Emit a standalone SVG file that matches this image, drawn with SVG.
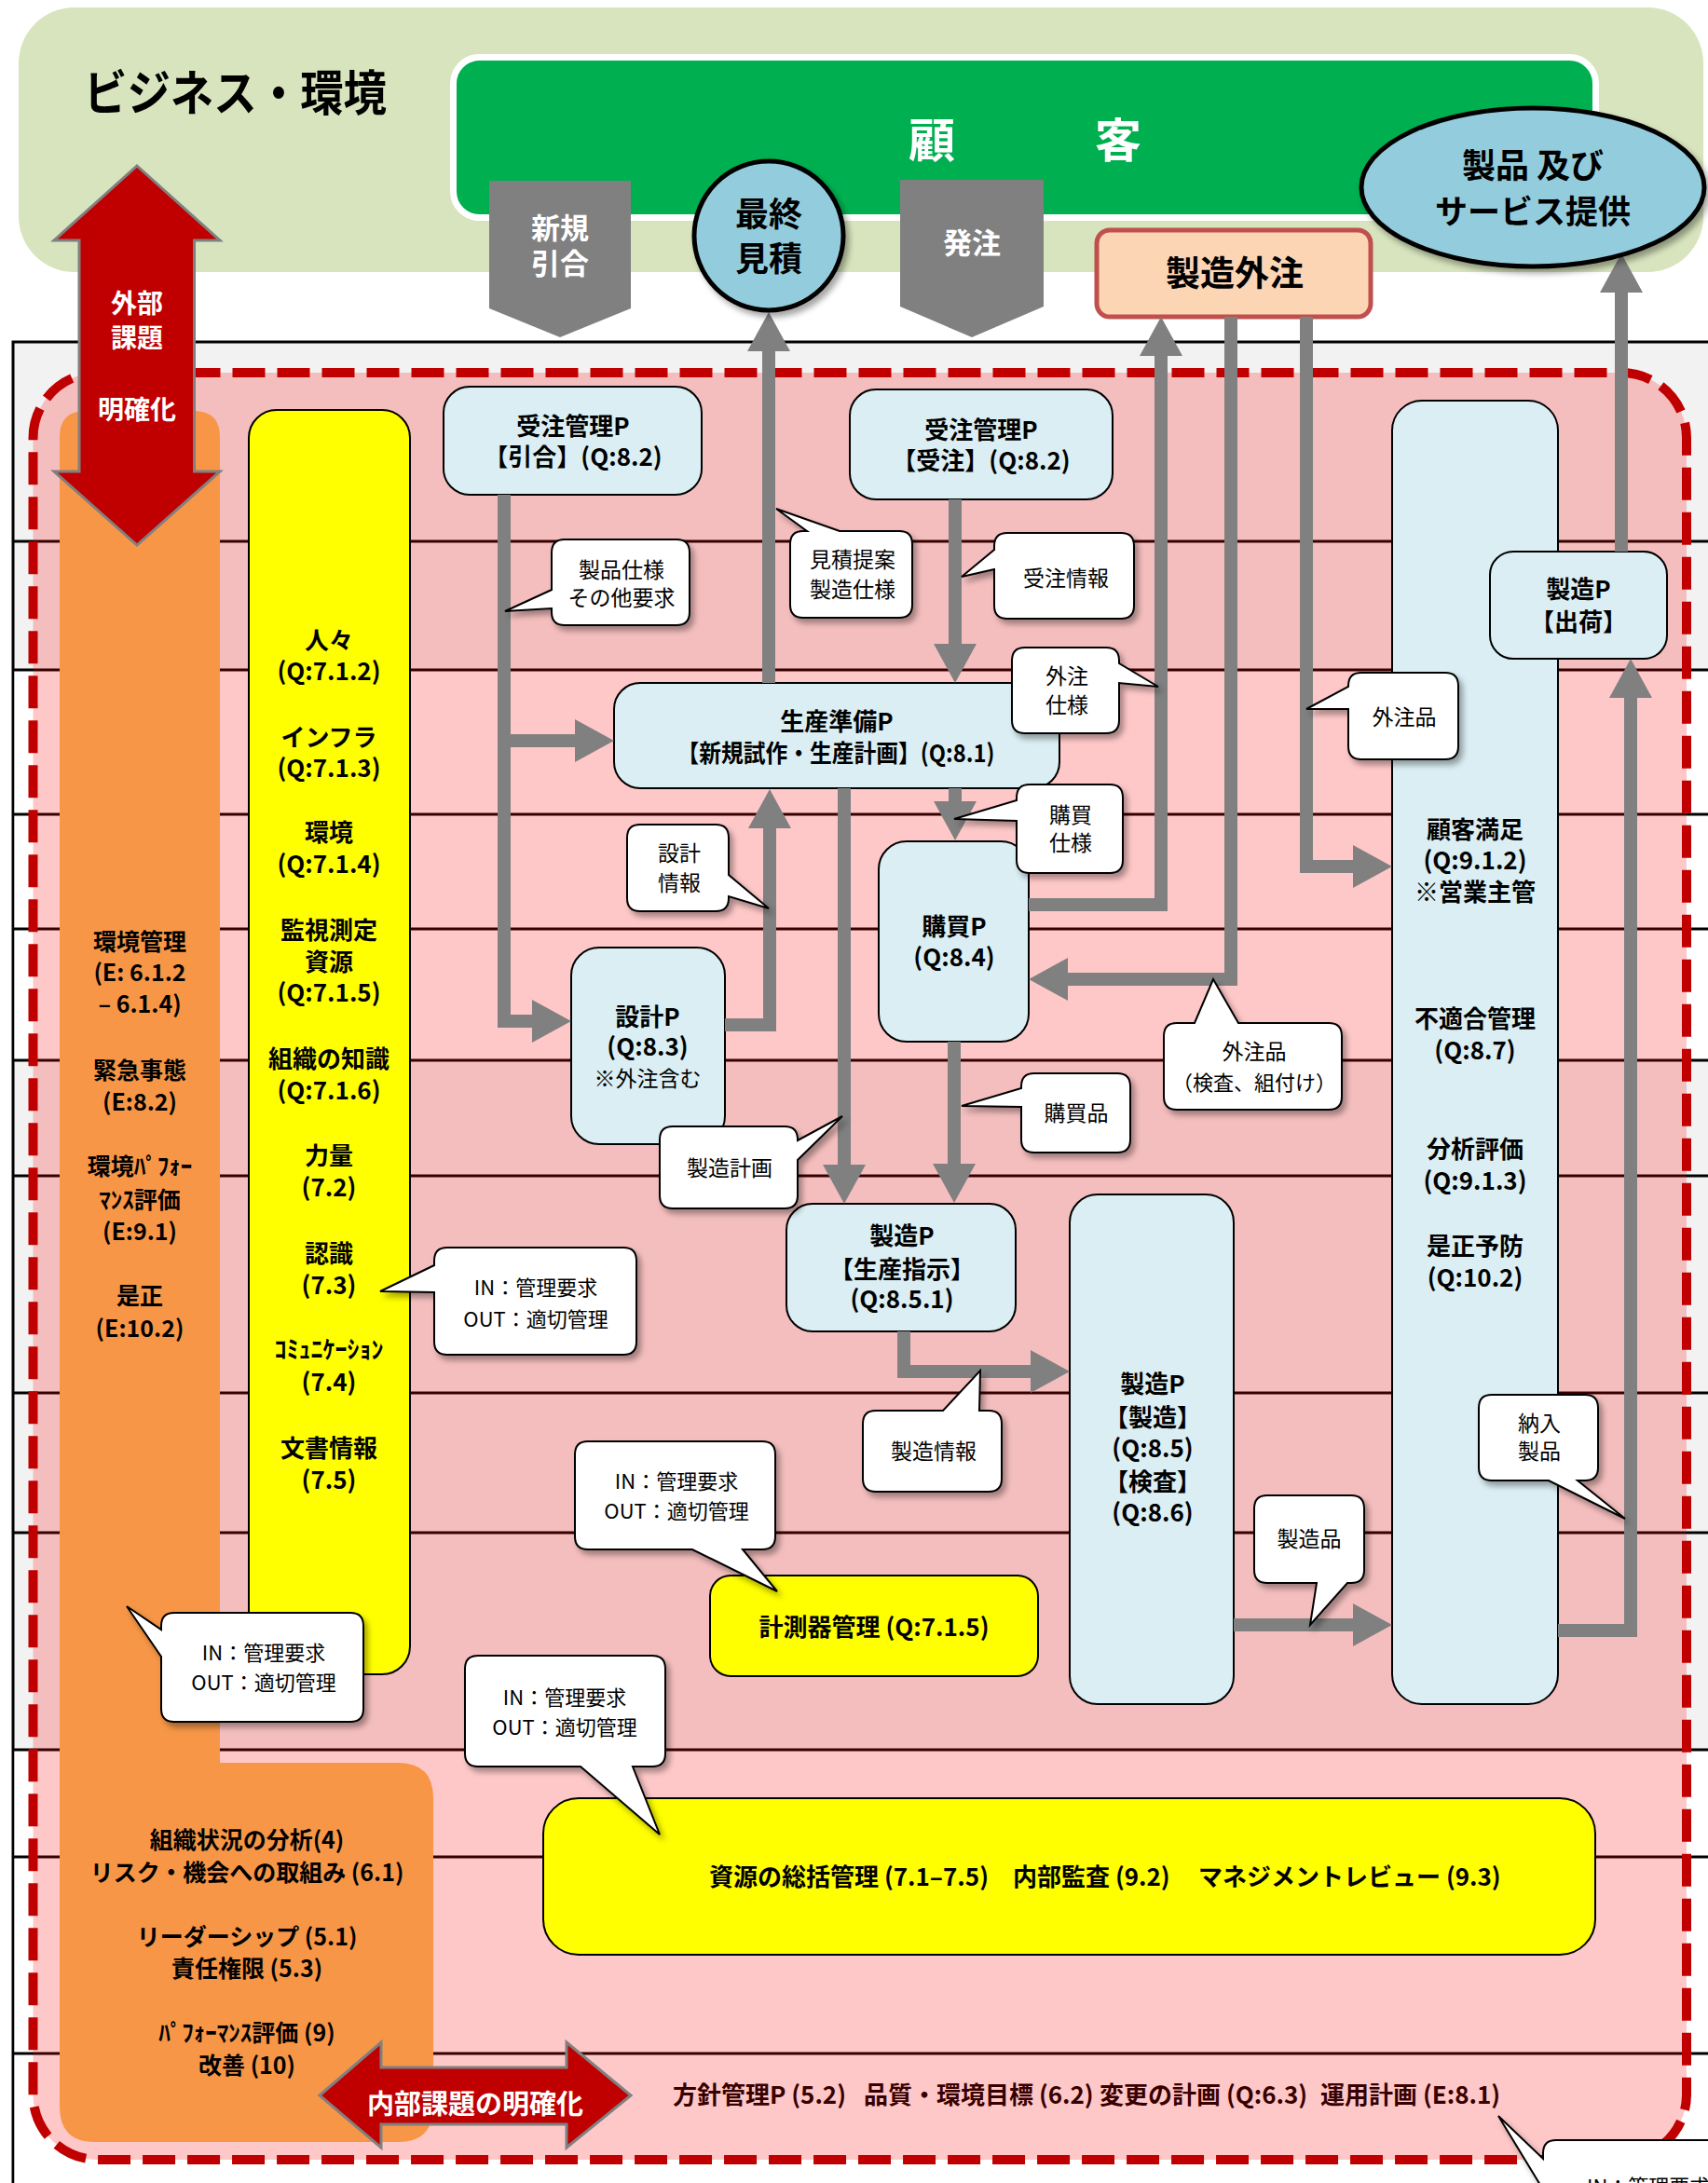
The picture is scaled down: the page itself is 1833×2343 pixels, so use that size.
<svg xmlns="http://www.w3.org/2000/svg" width="1833" height="2343" viewBox="0 0 1833 2343">
<defs>
<style>
text { font-family: "Noto Sans CJK JP", "Noto Sans CJK SC", sans-serif; fill: #000; }
.b { font-weight: 700; }
.m { text-anchor: middle; }
.w { fill: #fff; }
.box { fill: #DAEEF3; stroke: #000; stroke-width: 2; }
.bub { fill: #fff; stroke: #000; stroke-width: 2; filter: url(#sh); }
.con { fill: none; stroke: #808080; stroke-width: 14; stroke-linejoin: miter; marker-end: url(#ah); }
.rl { stroke: #000; stroke-width: 3; }
.bt { font-size: 23px; text-anchor: middle; }
.io { font-size: 22px; text-anchor: middle; }
.pt { font-size: 26px; font-weight: 700; text-anchor: middle; }
.ot { font-size: 25px; font-weight: 700; text-anchor: middle; }
.redar { fill: #C00000; stroke: #808080; stroke-width: 3; }
</style>
<filter id="sh" x="-15%" y="-15%" width="140%" height="150%">
<feDropShadow dx="4" dy="5" stdDeviation="3" flood-color="#000" flood-opacity="0.35"/>
</filter>
<marker id="ah" markerUnits="userSpaceOnUse" viewBox="0 0 42 46" refX="0" refY="23" markerWidth="42" markerHeight="46" orient="auto">
<path d="M0,0 L42,23 L0,46 Z" fill="#808080"/>
</marker>
</defs>

<rect width="1833" height="2343" fill="#fff"/>

<g id="business-environment">
<rect x="20" y="8" width="1808" height="284" rx="60" fill="#D7E4BD"/>
<text x="90" y="119" font-size="52" class="b" textLength="325" lengthAdjust="spacingAndGlyphs">ビジネス・環境</text>
</g>

<g id="customer">
<rect x="486.5" y="61.5" width="1226" height="172" rx="28" fill="#00AF50" stroke="#fff" stroke-width="7"/>
<text x="975" y="169" font-size="50" class="b w">顧　　　客</text>
</g>

<g id="frame">
<rect x="14" y="367" width="1840" height="2000" fill="#F2F2F2" stroke="#000" stroke-width="3"/>
<rect x="15.5" y="719" width="1830" height="419" fill="#fff"/>
<rect x="15.5" y="1878" width="1830" height="480" fill="#fff"/>
<g class="rl">
<line x1="14" y1="581" x2="1833" y2="581"/>
<line x1="14" y1="719" x2="1833" y2="719"/>
<line x1="14" y1="874" x2="1833" y2="874"/>
<line x1="14" y1="997" x2="1833" y2="997"/>
<line x1="14" y1="1138" x2="1833" y2="1138"/>
<line x1="14" y1="1262" x2="1833" y2="1262"/>
<line x1="14" y1="1495" x2="1833" y2="1495"/>
<line x1="14" y1="1645" x2="1833" y2="1645"/>
<line x1="14" y1="1878" x2="1833" y2="1878"/>
<line x1="14" y1="1993" x2="1833" y2="1993"/>
<line x1="14" y1="2204" x2="1833" y2="2204"/>
</g>
<text x="722" y="2258" font-size="26" class="b">方針管理P (5.2)</text>
<text x="927" y="2258" font-size="26" class="b">品質・環境目標 (6.2)</text>
<text x="1180" y="2258" font-size="26" class="b">変更の計画 (Q:6.3)</text>
<text x="1417" y="2258" font-size="26" class="b">運用計画 (E:8.1)</text>
<rect x="35.5" y="400" width="1774.5" height="1918" rx="70" fill="#FF0000" fill-opacity="0.215"/>
<rect x="35.5" y="400" width="1774.5" height="1918" rx="70" fill="none" stroke="#C00000" stroke-width="10" stroke-dasharray="35 13"/>
</g>

<g id="org-context">
<path d="M64,469 Q64,441 92,441 H208 Q236,441 236,469 V1892 H427 Q465,1892 465,1930 V2261 Q465,2299 427,2299 H102 Q64,2299 64,2261 Z" fill="#F79646"/>
<text class="ot" x="150" y="1020">環境管理</text>
<text class="ot" x="150" y="1053">(E: 6.1.2</text>
<text class="ot" x="150" y="1087">– 6.1.4)</text>
<text class="ot" x="150" y="1158">緊急事態</text>
<text class="ot" x="150" y="1192">(E:8.2)</text>
<text class="ot" x="150" y="1261">環境ﾊﾟﾌｫｰ</text>
<text class="ot" x="150" y="1297">ﾏﾝｽ評価</text>
<text class="ot" x="150" y="1331">(E:9.1)</text>
<text class="ot" x="150" y="1400">是正</text>
<text class="ot" x="150" y="1435">(E:10.2)</text>
<text class="ot" x="265" y="1984">組織状況の分析(4)</text>
<text class="ot" x="265" y="2019">リスク・機会への取組み (6.1)</text>
<text class="ot" x="265" y="2088">リーダーシップ (5.1)</text>
<text class="ot" x="265" y="2122">責任権限 (5.3)</text>
<text class="ot" x="265" y="2191">ﾊﾟﾌｫｰﾏﾝｽ評価 (9)</text>
<text class="ot" x="265" y="2226">改善 (10)</text>
</g>

<g id="resources">
<rect x="267" y="440" width="173" height="1357" rx="30" fill="#FFFF00" stroke="#000" stroke-width="2"/>
<text class="pt" x="353" y="697">人々</text>
<text class="pt" x="353" y="730">(Q:7.1.2)</text>
<text class="pt" x="353" y="801">インフラ</text>
<text class="pt" x="353" y="834">(Q:7.1.3)</text>
<text class="pt" x="353" y="903">環境</text>
<text class="pt" x="353" y="937">(Q:7.1.4)</text>
<text class="pt" x="353" y="1008">監視測定</text>
<text class="pt" x="353" y="1042">資源</text>
<text class="pt" x="353" y="1075">(Q:7.1.5)</text>
<text class="pt" x="353" y="1146">組織の知識</text>
<text class="pt" x="353" y="1180">(Q:7.1.6)</text>
<text class="pt" x="353" y="1250">力量</text>
<text class="pt" x="353" y="1284">(7.2)</text>
<text class="pt" x="353" y="1355">認識</text>
<text class="pt" x="353" y="1389">(7.3)</text>
<text class="pt" x="353" y="1458">ｺﾐｭﾆｹｰｼｮﾝ</text>
<text class="pt" x="353" y="1493">(7.4)</text>
<text class="pt" x="353" y="1564">文書情報</text>
<text class="pt" x="353" y="1598">(7.5)</text>
</g>

<g id="order-inquiry">
<rect class="box" x="476" y="415" width="277" height="116" rx="28"/>
<text class="pt" x="615" y="467">受注管理P</text>
<text class="pt" x="615" y="500">【引合】(Q:8.2)</text>
</g>

<g id="order-received">
<rect class="box" x="912" y="418" width="282" height="118" rx="28"/>
<text class="pt" x="1053" y="471">受注管理P</text>
<text class="pt" x="1053" y="504">【受注】(Q:8.2)</text>
</g>

<g id="production-prep">
<rect class="box" x="659" y="733" width="478" height="113" rx="28"/>
<text class="pt" x="898" y="784">生産準備P</text>
<text class="pt" x="897" y="818" textLength="341" lengthAdjust="spacingAndGlyphs">【新規試作・生産計画】(Q:8.1)</text>
</g>

<g id="design">
<rect class="box" x="613" y="1017" width="165" height="211" rx="30"/>
<text class="pt" x="695" y="1101">設計P</text>
<text class="pt" x="695" y="1133">(Q:8.3)</text>
<text class="bt" x="695" y="1166">※外注含む</text>
</g>

<g id="purchasing">
<rect class="box" x="943" y="903" width="161" height="215" rx="30"/>
<text class="pt" x="1024" y="1004">購買P</text>
<text class="pt" x="1024" y="1037">(Q:8.4)</text>
</g>

<g id="production-order">
<rect class="box" x="844" y="1292" width="246" height="137" rx="28"/>
<text class="pt" x="968" y="1336">製造P</text>
<text class="pt" x="968" y="1372">【生産指示】</text>
<text class="pt" x="968" y="1404">(Q:8.5.1)</text>
</g>

<g id="manufacturing">
<rect class="box" x="1148" y="1282" width="176" height="547" rx="30"/>
<text class="pt" x="1237" y="1495">製造P</text>
<text class="pt" x="1237" y="1531">【製造】</text>
<text class="pt" x="1237" y="1564">(Q:8.5)</text>
<text class="pt" x="1237" y="1600">【検査】</text>
<text class="pt" x="1237" y="1633">(Q:8.6)</text>
</g>

<g id="satisfaction">
<rect class="box" x="1494" y="430" width="178" height="1399" rx="32"/>
<text class="pt" x="1583" y="900">顧客満足</text>
<text class="pt" x="1583" y="933">(Q:9.1.2)</text>
<text class="pt" x="1583" y="967">※営業主管</text>
<text class="pt" x="1583" y="1103">不適合管理</text>
<text class="pt" x="1583" y="1137">(Q:8.7)</text>
<text class="pt" x="1583" y="1243">分析評価</text>
<text class="pt" x="1583" y="1277">(Q:9.1.3)</text>
<text class="pt" x="1583" y="1347">是正予防</text>
<text class="pt" x="1583" y="1381">(Q:10.2)</text>
</g>

<g id="shipping">
<rect class="box" x="1599" y="592" width="190" height="115" rx="25"/>
<text class="pt" x="1694" y="642">製造P</text>
<text class="pt" x="1694" y="677">【出荷】</text>
</g>

<g id="measuring">
<rect x="762" y="1691" width="352" height="108" rx="22" fill="#FFFF00" stroke="#000" stroke-width="2"/>
<text class="pt" x="938" y="1756">計測器管理 (Q:7.1.5)</text>
</g>

<g id="management">
<rect x="583" y="1930" width="1129" height="168" rx="38" fill="#FFFF00" stroke="#000" stroke-width="2"/>
<text x="761" y="2024" font-size="26" class="b">資源の総括管理 (7.1–7.5)</text>
<text x="1087" y="2024" font-size="26" class="b">内部監査 (9.2)</text>
<text x="1286" y="2024" font-size="26" class="b">マネジメントレビュー (9.3)</text>
</g>

<g id="outsourcing">
<rect x="1177" y="247" width="294" height="93" rx="14" fill="#FCD5B5" stroke="#C0504D" stroke-width="5"/>
<text x="1325" y="307" font-size="37" class="b m">製造外注</text>
</g>

<g id="connectors">
<path class="con" d="M541,531 V1096 H571"/>
<path class="con" d="M541,795 H617"/>
<path class="con" d="M825,733 V377"/>
<path class="con" d="M1025,536 V691"/>
<path class="con" d="M1025,846 V860"/>
<path class="con" d="M778,1100 H826 V889"/>
<path class="con" d="M906,846 V1250"/>
<path class="con" d="M1024,1118 V1249"/>
<path class="con" d="M1104,971 H1246 V382"/>
<path class="con" d="M1321,340 V1051 H1146"/>
<path class="con" d="M1402,340 V930 H1452"/>
<path class="con" d="M1324,1744 H1452"/>
<path class="con" d="M970,1429 V1472 H1106"/>
<path class="con" d="M1672,1750 H1750 V749"/>
<path class="con" d="M1740,592 V314"/>
</g>

<g id="new-inquiry">
<polygon points="525,194 677,194 677,331 601,362 525,331" fill="#808080"/>
<text x="601" y="256" font-size="31" class="b m w">新規</text>
<text x="601" y="294" font-size="31" class="b m w">引合</text>
</g>

<g id="order">
<polygon points="966,193 1120,193 1120,329 1043,362 966,329" fill="#808080"/>
<text x="1043" y="272" font-size="31" class="b m w">発注</text>
</g>

<g id="final-estimate">
<circle cx="825" cy="253" r="80" fill="#93CDDD" stroke="#000" stroke-width="5" filter="url(#sh)"/>
<text x="825" y="243" font-size="36" class="b m">最終</text>
<text x="825" y="291" font-size="36" class="b m">見積</text>
</g>

<g id="delivery">
<ellipse cx="1645" cy="201" rx="184" ry="85" fill="#93CDDD" stroke="#000" stroke-width="5" filter="url(#sh)"/>
<text x="1645" y="191" font-size="36" class="b m">製品 及び</text>
<text x="1645" y="240" font-size="35" class="b m">サービス提供</text>
</g>

<g id="external-issues">
<polygon class="redar" points="147,178 236,258 208.5,258 208.5,506 236,506 147,585 58,506 85,506 85,258 58,258"/>
<text x="147" y="336" font-size="28" class="b m w">外部</text>
<text x="147" y="373" font-size="28" class="b m w">課題</text>
<text x="147" y="450" font-size="28" class="b m w">明確化</text>
</g>

<g id="internal-issues">
<polygon class="redar" points="343,2249 409,2192 409,2219 608,2219 608,2192 677,2249 608,2305 608,2280 409,2280 409,2305"/>
<text x="510" y="2269" font-size="29" class="b m w">内部課題の明確化</text>
</g>

<g id="callout-spec">
<path class="bub" d="M606,579 H726 Q740,579 740,593 V657 Q740,671 726,671 H606 Q592,671 592,657 V653 L542,656 L592,633 V593 Q592,579 606,579 Z"/>
<text class="bt" x="667" y="620">製品仕様</text>
<text class="bt" x="667" y="650">その他要求</text>
</g>
<g id="callout-estimate">
<path class="bub" d="M848,584 Q848,570 862,570 H866 L833,546 L901,570 H965 Q979,570 979,584 V649 Q979,663 965,663 H862 Q848,663 848,649 Z"/>
<text class="bt" x="915" y="609">見積提案</text>
<text class="bt" x="915" y="641">製造仕様</text>
</g>
<g id="callout-order-info">
<path class="bub" d="M1081,572 H1203 Q1217,572 1217,586 V650 Q1217,664 1203,664 H1081 Q1067,664 1067,650 V611 L1032,619 L1067,590 V586 Q1067,572 1081,572 Z"/>
<text class="bt" x="1144" y="629">受注情報</text>
</g>
<g id="callout-outsource-spec">
<path class="bub" d="M1100,695 H1187 Q1201,695 1201,709 V712 L1243,737 L1201,733 V773 Q1201,787 1187,787 H1100 Q1086,787 1086,773 V709 Q1086,695 1100,695 Z"/>
<text class="bt" x="1145" y="734">外注</text>
<text class="bt" x="1145" y="765">仕様</text>
</g>
<g id="callout-purchase-spec">
<path class="bub" d="M1105,842 H1191 Q1205,842 1205,856 V923 Q1205,937 1191,937 H1105 Q1091,937 1091,923 V881 L1024,879 L1091,859 V856 Q1091,842 1105,842 Z"/>
<text class="bt" x="1149" y="883">購買</text>
<text class="bt" x="1149" y="913">仕様</text>
</g>
<g id="callout-design-info">
<path class="bub" d="M687,885 H768 Q782,885 782,899 V939 L825,975 L782,962 V964 Q782,978 768,978 H687 Q673,978 673,964 V899 Q673,885 687,885 Z"/>
<text class="bt" x="729" y="924">設計</text>
<text class="bt" x="729" y="956">情報</text>
</g>
<g id="callout-plan">
<path class="bub" d="M722,1209 H842 Q856,1209 856,1223 V1224 L904,1198 L856,1245 V1283 Q856,1297 842,1297 H722 Q708,1297 708,1283 V1223 Q708,1209 722,1209 Z"/>
<text class="bt" x="783" y="1262">製造計画</text>
</g>
<g id="callout-purchased">
<path class="bub" d="M1110,1152 H1199 Q1213,1152 1213,1166 V1223 Q1213,1237 1199,1237 H1110 Q1096,1237 1096,1223 V1188 L1032,1187 L1096,1168 V1166 Q1096,1152 1110,1152 Z"/>
<text class="bt" x="1155" y="1203">購買品</text>
</g>
<g id="callout-outsourced">
<path class="bub" d="M1461,722 H1551 Q1565,722 1565,736 V801 Q1565,815 1551,815 H1461 Q1447,815 1447,801 V761 L1402,761 L1447,737 V736 Q1447,722 1461,722 Z"/>
<text class="bt" x="1507" y="778">外注品</text>
</g>
<g id="callout-outsourced-inspect">
<path class="bub" d="M1249,1112 Q1249,1098 1263,1098 H1282 L1302,1051 L1329,1098 H1426 Q1440,1098 1440,1112 V1177 Q1440,1191 1426,1191 H1263 Q1249,1191 1249,1177 Z"/>
<text class="bt" x="1346" y="1137">外注品</text>
<text x="1346" y="1170" font-size="22" class="m">（検査、組付け）</text>
</g>
<g id="callout-mfg-info">
<path class="bub" d="M926,1528 Q926,1514 940,1514 H1012 L1052,1471 L1051,1514 H1061 Q1075,1514 1075,1528 V1587 Q1075,1601 1061,1601 H940 Q926,1601 926,1587 Z"/>
<text class="bt" x="1002" y="1566">製造情報</text>
</g>
<g id="callout-product">
<path class="bub" d="M1360,1605 H1450 Q1464,1605 1464,1619 V1685 Q1464,1699 1450,1699 H1446 L1406,1744 L1413,1699 H1360 Q1346,1699 1346,1685 V1619 Q1346,1605 1360,1605 Z"/>
<text class="bt" x="1405" y="1660">製造品</text>
</g>
<g id="callout-delivered">
<path class="bub" d="M1601,1497 H1701 Q1715,1497 1715,1511 V1575 Q1715,1589 1701,1589 H1693 L1744,1630 L1662,1589 H1601 Q1587,1589 1587,1575 V1511 Q1587,1497 1601,1497 Z"/>
<text class="bt" x="1652" y="1536">納入</text>
<text class="bt" x="1652" y="1566">製品</text>
</g>
<g id="callout-io-1">
<path class="bub" d="M480,1339 H669 Q683,1339 683,1353 V1440 Q683,1454 669,1454 H480 Q466,1454 466,1440 V1387 L408,1386 L466,1358 V1353 Q466,1339 480,1339 Z"/>
<text class="io" x="575" y="1390">IN：管理要求</text>
<text class="io" x="575" y="1424">OUT：適切管理</text>
</g>
<g id="callout-io-2">
<path class="bub" d="M631,1547 H818 Q832,1547 832,1561 V1649 Q832,1663 818,1663 H797 L834,1708 L743,1663 H631 Q617,1663 617,1649 V1561 Q617,1547 631,1547 Z"/>
<text class="io" x="726" y="1598">IN：管理要求</text>
<text class="io" x="726" y="1630">OUT：適切管理</text>
</g>
<g id="callout-io-3">
<path class="bub" d="M187,1731 H376 Q390,1731 390,1745 V1834 Q390,1848 376,1848 H187 Q173,1848 173,1834 V1778 L136,1724 L173,1749 V1745 Q173,1731 187,1731 Z"/>
<text class="io" x="283" y="1782">IN：管理要求</text>
<text class="io" x="283" y="1814">OUT：適切管理</text>
</g>
<g id="callout-io-4">
<path class="bub" d="M513,1777 H700 Q714,1777 714,1791 V1882 Q714,1896 700,1896 H679 L708,1969 L623,1896 H513 Q499,1896 499,1882 V1791 Q499,1777 513,1777 Z"/>
<text class="io" x="606" y="1830">IN：管理要求</text>
<text class="io" x="606" y="1862">OUT：適切管理</text>
</g>
<g id="callout-io-5">
<path class="bub" d="M1670,2297 H1900 V2420 H1656 V2350 L1608,2271 L1656,2317 V2311 Q1656,2297 1670,2297 Z"/>
<text x="1703" y="2355" font-size="22">IN：管理要求</text>
</g>
</svg>
